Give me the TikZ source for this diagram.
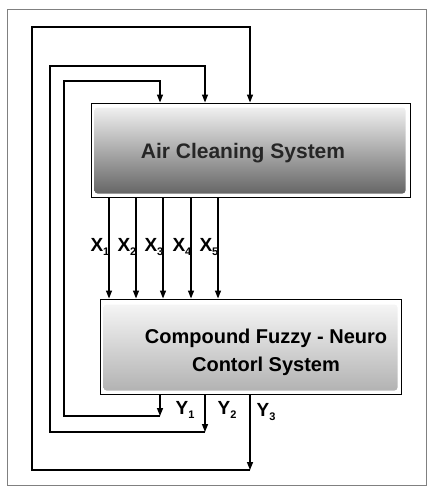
\documentclass[tikz,border=0pt]{standalone}
\usepackage{fontspec}
\setmainfont{Liberation Sans}
\usetikzlibrary{arrows.meta}
\tikzset{
  box/.style={draw=black, line width=1pt, inner sep=0pt},
  arr/.style={line width=1.4pt, -{Triangle[length=8pt,width=6pt]}},
  ttl/.style={font=\fontsize{21}{28}\selectfont\bfseries, align=center, inner sep=0pt},
  ttlb/.style={font=\fontsize{20}{28}\selectfont\bfseries, align=center, inner sep=0pt},
  lbl/.style={font=\fontsize{19}{19}\selectfont\bfseries, inner sep=0pt}
}
\newcommand{\subn}[1]{\raisebox{-0.35ex}{\fontsize{11}{11}\selectfont #1}}
\begin{document}
\begin{tikzpicture}[x=1pt,y=-1pt]
\useasboundingbox (0,0) rectangle (427,487);
\draw[gray, line width=0.6pt] (7,9) rectangle (426,485);

% Air Cleaning System box
\node[box, minimum width=319pt, minimum height=94pt] (acs) at (250.5,150) {};
\shade[top color=gray!12, bottom color=gray!80!black, rounded corners=3pt]
  ([xshift=4pt,yshift=-5pt]acs.north west) rectangle ([xshift=-5pt,yshift=4pt]acs.south east);
\node[ttl, text=black!85] (acst) at (243,153) {Air Cleaning System};

% Compound Fuzzy-Neuro box
\node[box, minimum width=301pt, minimum height=95pt] (cfn) at (250.5,346.5) {};
\shade[top color=gray!8, bottom color=gray!60, rounded corners=3pt]
  ([xshift=4pt,yshift=-6pt]cfn.north west) rectangle ([xshift=-4pt,yshift=4pt]cfn.south east);
\node[ttlb] (cfnt) at (266,352) {Compound Fuzzy - Neuro\\Contorl System};

% X connections
\foreach \x/\i in {109/1,136/2,163/3,191/4,218/5}{
  \draw[arr] (\x,0 |- acs.south) -- (\x,0 |- cfn.north);
  \node[lbl, anchor=east] (x\i) at (\x+0.5,247) {X\subn{\i}};
}

% corners of the feedback loops
\coordinate (c1) at (160,416);
\coordinate (c2) at (205,432);
\coordinate (c3) at (250,470);

% Y outputs
\draw[arr] (c1 |- cfn.south) -- (c1);
\draw[arr] (c2 |- cfn.south) -- (c2);
\draw[arr] (c3 |- cfn.south) -- (c3);
\node[lbl] (y1) at (185,410) {Y\subn{1}};
\node[lbl] (y2) at (227,410) {Y\subn{2}};
\node[lbl] (y3) at (266,412) {Y\subn{3}};

% feedback loops
\draw[arr] (c1) -- (64,416) -- (64,81) -- (160,81) -- (c1 |- acs.north);
\draw[arr] (c2) -- (50,432) -- (50,66) -- (205,66) -- (c2 |- acs.north);
\draw[arr] (c3) -- (32,470) -- (32,27) -- (250,27) -- (c3 |- acs.north);
\end{tikzpicture}
\end{document}
